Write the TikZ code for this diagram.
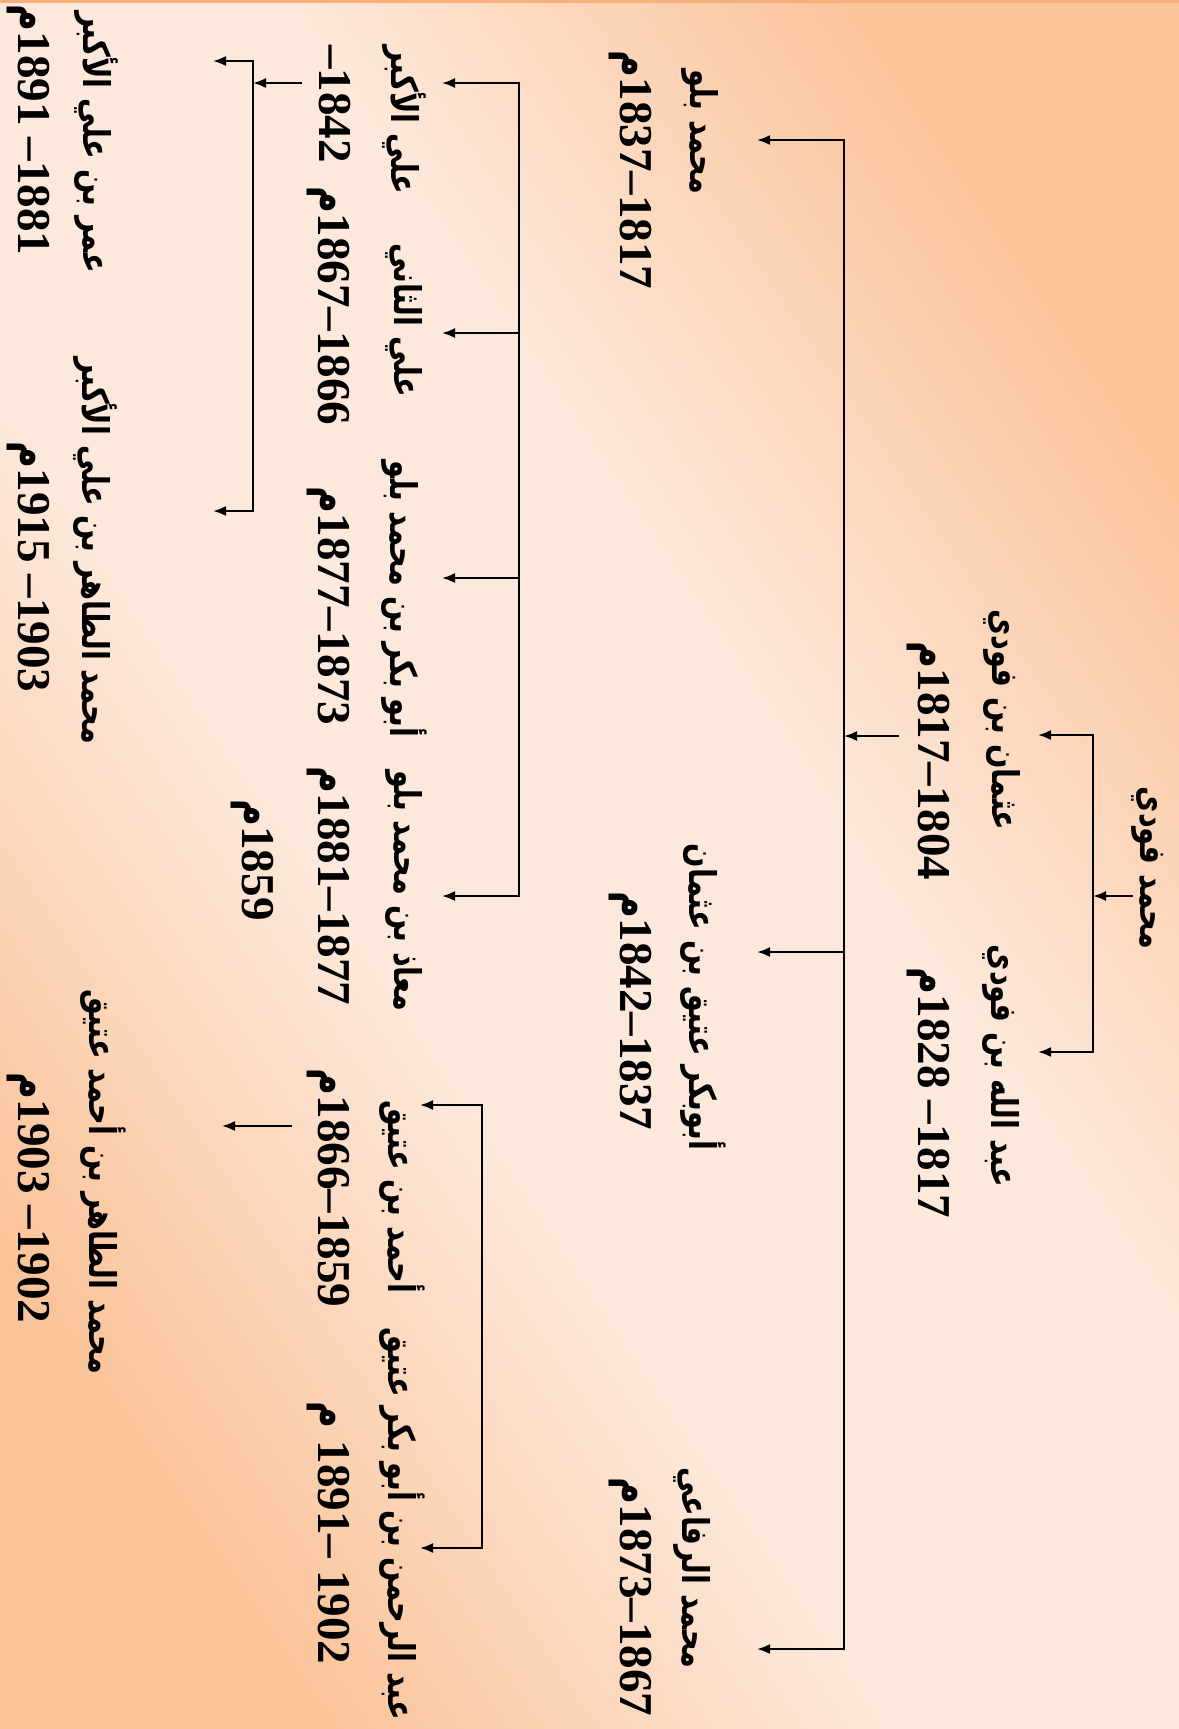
\documentclass[tikz,border=0pt]{standalone}
\usepackage{fontspec}
\setmainfont{Liberation Serif}
\newfontfamily\arabicfont[Script=Arabic,FakeStretch=0.78]{DejaVu Sans}
\usetikzlibrary{arrows.meta}
\TeXXeTstate=1
\definecolor{peachdark}{HTML}{FAC49A}
\definecolor{peachlight}{HTML}{FDE9DC}
\definecolor{topline}{HTML}{F5B07C}
\pgfdeclareverticalshading{peachband}{100bp}{color(0bp)=(peachdark); color(25bp)=(peachdark); color(42bp)=(peachlight); color(58bp)=(peachlight); color(75bp)=(peachdark); color(100bp)=(peachdark)}
\newcommand{\yrm}{{\arabicfont م}}
\tikzset{
  person/.style={rotate=-90,inner sep=0pt,font=\arabicfont\bfseries\fontsize{10.5}{13}\selectfont},
  years/.style={rotate=-90,inner sep=0pt,font=\bfseries\fontsize{13.4}{15}\selectfont},
  link/.style={line width=0.6pt},
  arr/.style={link,-{Latex[length=1.3mm,width=1mm]}},
  bracket/.style={link,{Latex[length=1.3mm,width=1mm]}-{Latex[length=1.3mm,width=1mm]}}
}
\begin{document}
\begin{tikzpicture}[x=0.1mm,y=-0.1mm]
  \useasboundingbox (0,0) rectangle (1179,1729);
  \shade[shading=peachband,shading angle=-56] (0,0) rectangle (1179,1729);
  \draw[topline,line width=1.2pt] (0,1) -- (1179,1);
  % first generation
  \node[person] (fodio) at (1148,868) {\beginR محمد فودي\endR};
  \node[person] (uthman) at (1002,720) {\beginR عثمان بن فودي\endR};
  \node[years] (uthmanY) at (928,761) {\beginR\beginL1804\endL–\beginL1817\endL\yrm\endR};
  \node[person] (abdullahi) at (1001,1066) {\beginR عبد الله بن فودي\endR};
  \node[years] (abdullahiY) at (928,1093) {\beginR\beginL1817\endL– \beginL1828\endL\yrm\endR};
  \coordinate (fodioS) at (1133,896);
  \coordinate (uthmanT) at (1038,735);
  \coordinate (abdullahiT) at (1038,1052);
  \coordinate (barA1) at (1093,735);
  \coordinate (barA2) at (1093,1052);
  \draw[arr] (fodioS) -- (fodioS -| barA1);
  \draw[bracket] (uthmanT) -- (barA1) -- (barA2) -- (abdullahiT);
  % sons of uthman
  \node[person] (bello) at (700,132) {\beginR محمد بلو\endR};
  \node[years] (belloY) at (630,170) {\beginR\beginL1817\endL–\beginL1837\endL\yrm\endR};
  \node[person] (atiku) at (703,997) {\beginR أبوبكر عتيق بن عثمان\endR};
  \node[years] (atikuY) at (630,1011) {\beginR\beginL1837\endL–\beginL1842\endL\yrm\endR};
  \node[person] (rufai) at (692,1568) {\beginR محمد الرفاعي\endR};
  \node[years] (rufaiY) at (630,1597) {\beginR\beginL1867\endL–\beginL1873\endL\yrm\endR};
  \coordinate (uthmanS) at (899,736);
  \coordinate (belloT) at (757,140);
  \coordinate (atikuT) at (757,952);
  \coordinate (rufaiT) at (757,1649);
  \coordinate (barB1) at (844,140);
  \coordinate (barB2) at (844,1649);
  \draw[arr] (uthmanS) -- (uthmanS -| barB1);
  \draw[bracket] (belloT) -- (barB1) -- (barB2) -- (rufaiT);
  \draw[arr] (atikuT -| barB1) -- (atikuT);
  % sons of bello
  \node[person] (aliK) at (404,120) {\beginR علي الأكبر\endR};
  \node[years] (aliKY) at (335,104) {\beginR\beginL1842\endL–\endR};
  \node[person] (aliS) at (404,320) {\beginR علي الثاني\endR};
  \node[years] (aliSY) at (328,306) {\beginR\beginL1866\endL–\beginL1867\endL\yrm\endR};
  \node[person] (abubakar) at (404,599) {\beginR أبو بكر بن محمد بلو\endR};
  \node[years] (abubakarY) at (328,606) {\beginR\beginL1873\endL–\beginL1877\endL\yrm\endR};
  \node[person] (muazu) at (404,891) {\beginR معاذ بن محمد بلو\endR};
  \node[years] (muazuY) at (328,886) {\beginR\beginL1877\endL–\beginL1881\endL\yrm\endR};
  \coordinate (aliKT) at (442,83);
  \coordinate (aliST) at (442,333);
  \coordinate (abubakarT) at (442,578);
  \coordinate (muazuT) at (442,896);
  \coordinate (barC1) at (519,83);
  \coordinate (barC2) at (519,896);
  \draw[bracket] (aliKT) -- (barC1) -- (barC2) -- (muazuT);
  \draw[arr] (aliST -| barC1) -- (aliST);
  \draw[arr] (abubakarT -| barC1) -- (abubakarT);
  % sons of atiku
  \node[person] (ahmad) at (402,1197) {\beginR أحمد بن عتيق\endR};
  \node[years] (ahmadY) at (328,1188) {\beginR\beginL1859\endL–\beginL1866\endL\yrm\endR};
  \node[person] (abdurrahman) at (402,1524) {\beginR عبد الرحمن بن أبو بكر عتيق\endR};
  \node[years] (abdurrahmanY) at (328,1533) {\beginR\beginL1902\endL{} –\beginL1891\endL{} \yrm\endR};
  \coordinate (ahmadT) at (420,1105);
  \coordinate (abdurrahmanT) at (420,1548);
  \coordinate (barD1) at (482,1105);
  \coordinate (barD2) at (482,1548);
  \draw[bracket] (ahmadT) -- (barD1) -- (barD2) -- (abdurrahmanT);
  % grandsons
  \node[years] (orphanY) at (252,860) {\beginR\beginL1859\endL\yrm\endR};
  \node[person] (umar) at (96,142) {\beginR عمر بن علي الأكبر\endR};
  \node[years] (umarY) at (28,130) {\beginR\beginL1881\endL– \beginL1891\endL\yrm\endR};
  \node[person] (tahirA) at (95,551) {\beginR محمد الطاهر بن علي الأكبر\endR};
  \node[years] (tahirAY) at (28,567) {\beginR\beginL1903\endL– \beginL1915\endL\yrm\endR};
  \node[person] (tahirB) at (103,1182) {\beginR محمد الطاهر بن أحمد عتيق\endR};
  \node[years] (tahirBY) at (28,1198) {\beginR\beginL1902\endL– \beginL1903\endL\yrm\endR};
  \coordinate (aliKS) at (302,83);
  \coordinate (umarT) at (213,61);
  \coordinate (tahirAT) at (213,511);
  \coordinate (barE1) at (253,61);
  \coordinate (barE2) at (253,511);
  \draw[arr] (aliKS) -- (aliKS -| barE1);
  \draw[bracket] (umarT) -- (barE1) -- (barE2) -- (tahirAT);
  \coordinate (ahmadS) at (292,1126);
  \coordinate (tahirBT) at (222,1126);
  \draw[arr] (ahmadS) -- (tahirBT);
\end{tikzpicture}
\end{document}
